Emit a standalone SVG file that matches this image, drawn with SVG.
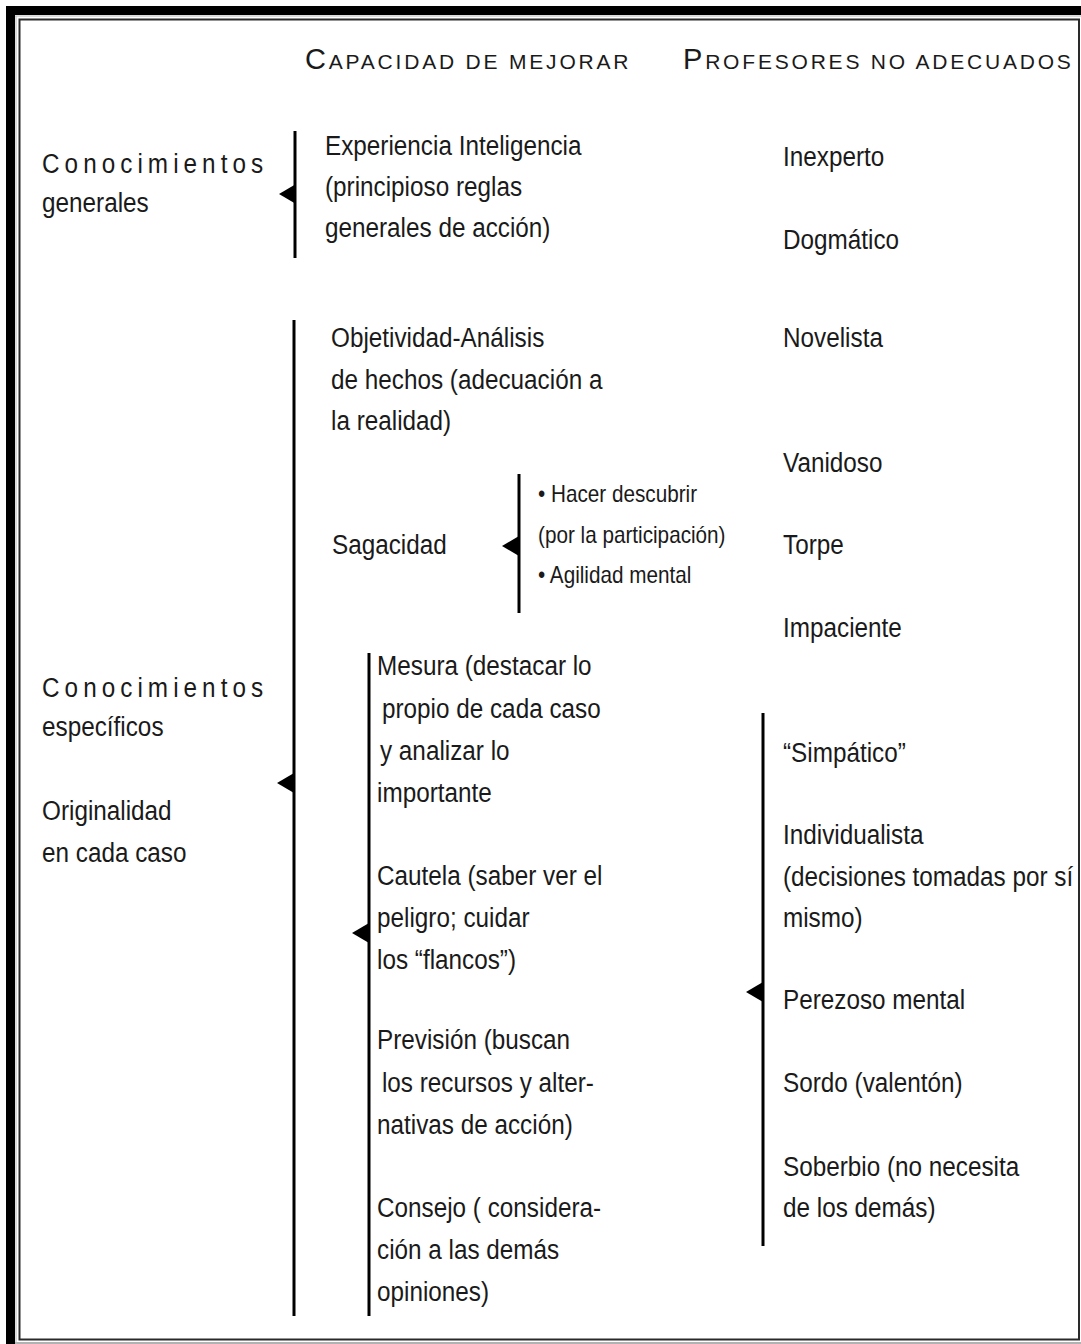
<svg xmlns="http://www.w3.org/2000/svg" width="1081" height="1344" viewBox="0 0 1081 1344">
<style>
  .t { font-family: "Liberation Sans", Arial, sans-serif; font-size: 27px; fill: #1a1a1a; }
  .s { font-family: "Liberation Sans", Arial, sans-serif; font-size: 23px; fill: #1a1a1a; }
  .sp { letter-spacing: 5.6px; }
  .h { font-family: "Liberation Sans", Arial, sans-serif; font-size: 21px; fill: #1a1a1a; letter-spacing: 2.8px; }
  .hb { font-size: 29px; }
  .br { stroke: #000; stroke-width: 3; fill: none; }
</style>
<defs>
  <path id="tri" d="M0,0 L17,-10 L17,10 Z" fill="#000"/>
</defs>
<rect width="1081" height="1344" fill="#fff"/>
<g id="frame">
  <rect x="6" y="6" width="1075" height="9" fill="#000"/>
  <rect x="6" y="6" width="9" height="1338" fill="#000"/>
  <line x1="15" y1="1343" x2="1081" y2="1343" stroke="#999" stroke-width="1.5"/>
  <line x1="15" y1="16" x2="1081" y2="16" stroke="#bbb" stroke-width="1"/>
  <line x1="16" y1="16" x2="16" y2="1344" stroke="#bbb" stroke-width="1"/>
  <rect x="19.5" y="19.5" width="1059.5" height="1320" fill="none" stroke="#2a2a2a" stroke-width="2"/>
</g>
<g id="headers">
  <g id="header-capacidad"><text class="h" x="305" y="69"><tspan class="hb">C</tspan>APACIDAD DE MEJORAR</text></g>
  <g id="header-profesores"><text class="h" x="683" y="69"><tspan class="hb">P</tspan>ROFESORES NO ADECUADOS</text></g>
</g>
<g id="connectors">
  <line class="br" x1="295" y1="131" x2="295" y2="258"/>
  <use href="#tri" x="279" y="194"/>
  <line class="br" x1="294" y1="320" x2="294" y2="1316"/>
  <use href="#tri" x="277" y="783"/>
  <line class="br" x1="519" y1="474" x2="519" y2="613"/>
  <use href="#tri" x="502" y="546"/>
  <line class="br" x1="369" y1="653" x2="369" y2="1316"/>
  <use href="#tri" x="352" y="933"/>
  <line class="br" x1="763" y1="713" x2="763" y2="1246"/>
  <use href="#tri" x="746" y="992"/>
</g>
<g id="labels" transform="scale(0.9 1)">
  <g id="conocimientos-generales">
    <text class="t sp" x="46.7" y="173">Conocimientos</text>
    <text class="t" x="46.7" y="212">generales</text>
  </g>
  <g id="conocimientos-especificos">
    <text class="t sp" x="46.7" y="697">Conocimientos</text>
    <text class="t" x="46.7" y="736">específicos</text>
    <text class="t" x="46.7" y="820">Originalidad</text>
    <text class="t" x="46.7" y="862">en cada caso</text>
  </g>
  <g id="experiencia">
    <text class="t" x="361.1" y="155">Experiencia Inteligencia</text>
    <text class="t" x="361.1" y="196">(principioso reglas</text>
    <text class="t" x="361.1" y="237">generales de acción)</text>
  </g>
  <g id="objetividad">
    <text class="t" x="367.8" y="347">Objetividad-Análisis</text>
    <text class="t" x="367.8" y="389">de hechos (adecuación a</text>
    <text class="t" x="367.8" y="430">la realidad)</text>
  </g>
  <g id="sagacidad">
    <text class="t" x="368.9" y="554">Sagacidad</text>
  </g>
  <g id="sagacidad-items">
    <text class="s" x="597.8" y="502">• Hacer descubrir</text>
    <text class="s" x="597.8" y="543">(por la participación)</text>
    <text class="s" x="597.8" y="583">• Agilidad mental</text>
  </g>
  <g id="mesura">
    <text class="t" x="418.9" y="675">Mesura (destacar lo</text>
    <text class="t" x="424.4" y="718">propio de cada caso</text>
    <text class="t" x="422.2" y="760">y analizar lo</text>
    <text class="t" x="418.9" y="802">importante</text>
  </g>
  <g id="cautela">
    <text class="t" x="418.9" y="885">Cautela (saber ver el</text>
    <text class="t" x="418.9" y="927">peligro; cuidar</text>
    <text class="t" x="418.9" y="969">los “flancos”)</text>
  </g>
  <g id="prevision">
    <text class="t" x="418.9" y="1049">Previsión (buscan</text>
    <text class="t" x="424.4" y="1092">los recursos y alter-</text>
    <text class="t" x="418.9" y="1134">nativas de acción)</text>
  </g>
  <g id="consejo">
    <text class="t" x="418.9" y="1217">Consejo ( considera-</text>
    <text class="t" x="418.9" y="1259">ción a las demás</text>
    <text class="t" x="418.9" y="1301">opiniones)</text>
  </g>
  <g id="inexperto"><text class="t" x="870" y="166">Inexperto</text></g>
  <g id="dogmatico"><text class="t" x="870" y="249">Dogmático</text></g>
  <g id="novelista"><text class="t" x="870" y="347">Novelista</text></g>
  <g id="vanidoso"><text class="t" x="870" y="472">Vanidoso</text></g>
  <g id="torpe"><text class="t" x="870" y="554">Torpe</text></g>
  <g id="impaciente"><text class="t" x="870" y="637">Impaciente</text></g>
  <g id="simpatico"><text class="t" x="870" y="762">“Simpático”</text></g>
  <g id="individualista">
    <text class="t" x="870" y="844">Individualista</text>
    <text class="t" x="870" y="886">(decisiones tomadas por sí</text>
    <text class="t" x="870" y="927">mismo)</text>
  </g>
  <g id="perezoso"><text class="t" x="870" y="1009">Perezoso mental</text></g>
  <g id="sordo"><text class="t" x="870" y="1092">Sordo (valentón)</text></g>
  <g id="soberbio">
    <text class="t" x="870" y="1176">Soberbio (no necesita</text>
    <text class="t" x="870" y="1217">de los demás)</text>
  </g>
</g>
</svg>
